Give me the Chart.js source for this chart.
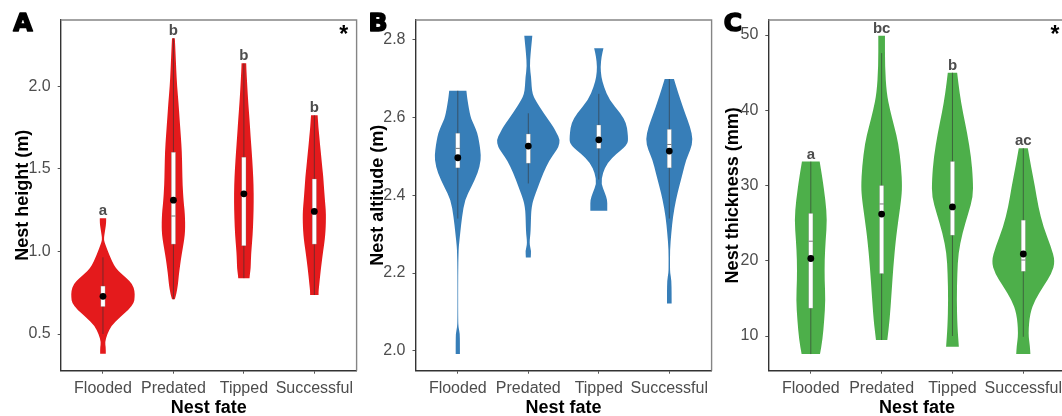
<!DOCTYPE html>
<html>
<head>
<meta charset="utf-8">
<script src="https://cdn.jsdelivr.net/npm/chart.js@4.4.1/dist/chart.umd.min.js"></script>
<style>
  html, body { margin: 0; padding: 0; background: #ffffff; width: 1062px; height: 416px; overflow: hidden; }
  canvas { position: absolute; top: 0; }
</style>
</head>
<body>
<canvas id="cA" width="360" height="418" style="left:0px"></canvas>
<canvas id="cB" width="360" height="418" style="left:355px"></canvas>
<canvas id="cC" width="360" height="418" style="left:710px"></canvas>
<script>
// ---------------- DATA ----------------
const categories = ['Flooded', 'Predated', 'Tipped', 'Successful'];

// Panel A: Nest height (m) — violin profiles [value, half-width in category units]
const heightFlooded = [[0.38,0.04],[0.42,0.04],[0.45,0.028],[0.50,0.06],[0.55,0.12],[0.60,0.24],[0.65,0.37],[0.69,0.44],[0.72,0.45],[0.76,0.45],[0.80,0.42],[0.84,0.33],[0.88,0.22],[0.92,0.15],[0.96,0.11],[1.00,0.07],[1.04,0.035],[1.07,0.012],[1.10,0.02],[1.14,0.035],[1.17,0.045],[1.20,0.045]];
const heightPredated = [[0.71,0.02],[0.74,0.04],[0.80,0.065],[0.85,0.075],[0.90,0.09],[0.95,0.106],[1.00,0.125],[1.05,0.145],[1.10,0.162],[1.15,0.167],[1.20,0.165],[1.25,0.158],[1.30,0.145],[1.40,0.13],[1.50,0.125],[1.60,0.12],[1.70,0.105],[1.80,0.088],[1.90,0.072],[2.00,0.052],[2.10,0.04],[2.20,0.03],[2.29,0.02]];
const heightTipped = [[0.838,0.08],[0.86,0.085],[0.90,0.097],[0.95,0.1],[1.00,0.106],[1.10,0.125],[1.20,0.135],[1.30,0.14],[1.40,0.138],[1.50,0.127],[1.60,0.112],[1.70,0.095],[1.80,0.08],[1.90,0.062],[2.00,0.048],[2.10,0.036],[2.138,0.033]];
const heightSuccessful = [[0.736,0.06],[0.76,0.06],[0.80,0.07],[0.90,0.094],[1.00,0.125],[1.05,0.142],[1.10,0.155],[1.15,0.162],[1.20,0.165],[1.25,0.163],[1.30,0.152],[1.40,0.135],[1.45,0.127],[1.50,0.115],[1.60,0.092],[1.65,0.08],[1.70,0.07],[1.75,0.058],[1.824,0.047]];
const heightQ1 = [0.666, 1.044, 1.034, 1.044];
const heightMedian = [0.72, 1.214, 1.35, 1.25];
const heightQ3 = [0.79, 1.60, 1.57, 1.438];
const heightWhiskerLow = [0.50, 0.71, 0.838, 0.736];
const heightWhiskerHigh = [0.964, 2.29, 2.138, 1.824];
const heightMean = [0.728, 1.31, 1.348, 1.242];
const heightLetters = ['a', 'b', 'b', 'b'];
const heightTicks = [0.5, 1.0, 1.5, 2.0];

// Panel B: Nest altitude (m)
const altitudeFlooded = [[1.992,0.03],[2.02,0.03],[2.046,0.028],[2.06,0.01],[2.08,0.005],[2.20,0.005],[2.25,0.01],[2.268,0.014],[2.30,0.033],[2.345,0.06],[2.388,0.10],[2.42,0.19],[2.456,0.283],[2.49,0.33],[2.516,0.32],[2.54,0.30],[2.559,0.278],[2.58,0.23],[2.60,0.18],[2.644,0.137],[2.668,0.122]];
const altitudePredated = [[2.24,0.035],[2.259,0.04],[2.27,0.02],[2.285,0.02],[2.30,0.03],[2.319,0.035],[2.354,0.04],[2.37,0.05],[2.388,0.07],[2.422,0.14],[2.456,0.21],[2.49,0.30],[2.51,0.38],[2.524,0.43],[2.542,0.45],[2.56,0.40],[2.576,0.354],[2.61,0.22],[2.644,0.10],[2.66,0.06],[2.678,0.047],[2.704,0.04],[2.73,0.02],[2.764,0.033],[2.79,0.047],[2.809,0.057]];
const altitudeTipped = [[2.36,0.12],[2.37,0.12],[2.388,0.12],[2.405,0.087],[2.43,0.033],[2.456,0.054],[2.482,0.12],[2.508,0.26],[2.52,0.35],[2.533,0.41],[2.545,0.415],[2.559,0.41],[2.585,0.39],[2.61,0.31],[2.644,0.15],[2.679,0.07],[2.704,0.035],[2.73,0.024],[2.756,0.04],[2.777,0.066]];
const altitudeSuccessful = [[2.122,0.033],[2.148,0.033],[2.182,0.03],[2.20,0.012],[2.216,0.01],[2.26,0.01],[2.302,0.028],[2.345,0.052],[2.388,0.094],[2.422,0.14],[2.456,0.19],[2.49,0.236],[2.516,0.30],[2.542,0.337],[2.576,0.295],[2.61,0.224],[2.644,0.16],[2.67,0.113],[2.698,0.066]];
const altitudeQ1 = [2.47, 2.482, 2.52, 2.47];
const altitudeMedian = [2.52, 2.53, 2.545, 2.53];
const altitudeQ3 = [2.559, 2.557, 2.58, 2.569];
const altitudeWhiskerLow = [2.34, 2.43, 2.44, 2.34];
const altitudeWhiskerHigh = [2.668, 2.61, 2.66, 2.698];
const altitudeMean = [2.496, 2.526, 2.542, 2.513];
const altitudeTicks = [2.0, 2.2, 2.4, 2.6, 2.8];

// Panel C: Nest thickness (mm)
const thicknessFlooded = [[7.6,0.13],[9.47,0.165],[12.1,0.19],[14.8,0.207],[17.4,0.195],[20.1,0.195],[22.8,0.21],[25.4,0.23],[28.1,0.207],[31.2,0.16],[33.18,0.125]];
const thicknessPredated = [[9.47,0.08],[12.1,0.113],[15.7,0.14],[19.2,0.165],[22.8,0.2],[25.4,0.236],[28.1,0.276],[29.85,0.29],[32.5,0.276],[35.6,0.236],[37.8,0.18],[40.05,0.118],[42.3,0.07],[45.8,0.047],[49.9,0.047]];
const thicknessTipped = [[8.58,0.09],[11.2,0.07],[14.8,0.06],[18.3,0.068],[21.0,0.083],[23.66,0.14],[26.3,0.224],[28.5,0.29],[30.7,0.29],[33.8,0.264],[37.0,0.207],[39.6,0.15],[42.3,0.1],[45.0,0.066]];
const thicknessSuccessful = [[7.6,0.1],[8.58,0.094],[10.35,0.07],[13.0,0.094],[14.8,0.165],[16.6,0.283],[18.3,0.4],[19.9,0.45],[21.9,0.39],[24.5,0.283],[27.2,0.212],[29.85,0.165],[32.5,0.11],[34.96,0.064]];
const thicknessQ1 = [13.7, 18.3, 23.4, 18.6];
const thicknessMedian = [22.6, 27.55, 27.0, 20.1];
const thicknessQ3 = [26.3, 30.0, 33.2, 25.4];
const thicknessWhiskerLow = [7.6, 9.47, 10, 9.9];
const thicknessWhiskerHigh = [33.18, 47.6, 45, 34.96];
const thicknessMean = [20.3, 26.2, 27.15, 20.9];
const thicknessLetters = ['a', 'bc', 'b', 'ac'];
const thicknessTicks = [10, 20, 30, 40, 50];

// ---------------- DRAWING ----------------
const FONT = "'Liberation Sans', Arial, sans-serif";
const TICK_GREY = '#4d4d4d';

// smooth path through a list of pixel points (midpoint quadratic smoothing)
function smoothSide(ctx, pts, first) {
  if (first) ctx.moveTo(pts[0][0], pts[0][1]); else ctx.lineTo(pts[0][0], pts[0][1]);
  if (pts.length < 3) { for (let k = 1; k < pts.length; k++) ctx.lineTo(pts[k][0], pts[k][1]); return; }
  ctx.lineTo((pts[0][0] + pts[1][0]) / 2, (pts[0][1] + pts[1][1]) / 2);
  for (let k = 1; k < pts.length - 1; k++) {
    const mx = (pts[k][0] + pts[k + 1][0]) / 2, my = (pts[k][1] + pts[k + 1][1]) / 2;
    ctx.quadraticCurveTo(pts[k][0], pts[k][1], mx, my);
  }
  const L = pts[pts.length - 1];
  ctx.lineTo(L[0], L[1]);
}

const violinPlugin = {
  id: 'violins',
  beforeDatasetsDraw(chart) {
    const p = chart.options.plugins.violins;
    if (!p) return;
    const {ctx, chartArea} = chart;
    const xs = chart.scales.x, ys = chart.scales.y;
    ctx.save();
    ctx.beginPath();
    ctx.rect(chartArea.left, chartArea.top, chartArea.width, chartArea.height);
    ctx.clip();
    const bw = 0.03;
    p.profiles.forEach((prof, i) => {
      const cx = i + 1;
      const right = prof.map(([v, w]) => [xs.getPixelForValue(cx + w), ys.getPixelForValue(v)]);
      const left = prof.slice().reverse().map(([v, w]) => [xs.getPixelForValue(cx - w), ys.getPixelForValue(v)]);
      ctx.beginPath();
      smoothSide(ctx, right, true);
      smoothSide(ctx, left, false);
      ctx.closePath();
      ctx.fillStyle = p.color;
      ctx.fill();
      // whisker line
      const X0 = xs.getPixelForValue(cx);
      ctx.beginPath();
      ctx.moveTo(X0, ys.getPixelForValue(p.wLo[i]));
      ctx.lineTo(X0, ys.getPixelForValue(p.wHi[i]));
      ctx.strokeStyle = 'rgba(50,50,50,0.75)';
      ctx.lineWidth = 0.8;
      ctx.stroke();
      // box
      const xl = xs.getPixelForValue(cx - bw), xr = xs.getPixelForValue(cx + bw);
      const yt = ys.getPixelForValue(p.q3[i]), yb = ys.getPixelForValue(p.q1[i]);
      ctx.fillStyle = '#ffffff';
      ctx.fillRect(xl, yt, xr - xl, yb - yt);
      ctx.strokeStyle = 'rgba(120,120,120,0.6)';
      ctx.lineWidth = 0.5;
      ctx.strokeRect(xl, yt, xr - xl, yb - yt);
      // median
      const ym = ys.getPixelForValue(p.med[i]);
      ctx.beginPath();
      ctx.moveTo(xl, ym); ctx.lineTo(xr, ym);
      ctx.strokeStyle = '#777777';
      ctx.lineWidth = 1;
      ctx.stroke();
    });
    ctx.restore();
  },
  afterDraw(chart) {
    const p = chart.options.plugins.violins;
    if (!p) return;
    const {ctx, chartArea} = chart;
    const xs = chart.scales.x, ys = chart.scales.y;
    ctx.save();
    // top and right panel border
    ctx.strokeStyle = '#858585';
    ctx.lineWidth = 1.4;
    ctx.beginPath();
    ctx.moveTo(chartArea.left, chartArea.top);
    ctx.lineTo(chartArea.right, chartArea.top);
    ctx.lineTo(chartArea.right, chartArea.bottom);
    ctx.stroke();
    // significance letters
    if (p.letters) {
      ctx.font = 'bold 15px ' + FONT;
      ctx.fillStyle = TICK_GREY;
      ctx.textAlign = 'center';
      ctx.textBaseline = 'alphabetic';
      p.letters.forEach((t, i) => {
        const prof = p.profiles[i];
        const top = prof[prof.length - 1][0];
        ctx.fillText(t, xs.getPixelForValue(i + 1), ys.getPixelForValue(top) - 3);
      });
    }
    // asterisk
    if (p.star) {
      ctx.font = 'bold 23px ' + FONT;
      ctx.fillStyle = '#000000';
      ctx.textAlign = 'center';
      ctx.textBaseline = 'middle';
      ctx.fillText('*', chartArea.left + p.starX, chartArea.top + 16);
    }
    // panel letter (heavy)
    ctx.font = 'bold 25px "DejaVu Sans", ' + FONT;
    ctx.fillStyle = '#000000';
    ctx.strokeStyle = '#000000';
    ctx.lineWidth = 1.6;
    ctx.lineJoin = 'round';
    ctx.textAlign = 'center';
    ctx.textBaseline = 'middle';
    ctx.fillText(p.panel, p.panelX, 24);
    ctx.strokeText(p.panel, p.panelX, 24);
    ctx.restore();
  }
};

function makeChart(id, cfg) {
  const meanData = cfg.mean.map((m, i) => ({x: i + 1, y: m}));
  return new Chart(document.getElementById(id), {
    type: 'scatter',
    data: {
      datasets: [{
        data: meanData,
        pointRadius: 3.4,
        pointBackgroundColor: '#000000',
        pointBorderWidth: 0,
        pointHoverRadius: 3.4
      }]
    },
    options: {
      responsive: false,
      animation: false,
      events: [],
      layout: { padding: { top: 20, right: cfg.padRight, left: 0, bottom: 0 } },
      plugins: {
        legend: { display: false },
        tooltip: { enabled: false },
        violins: {
          profiles: cfg.profiles, color: cfg.color,
          q1: cfg.q1, med: cfg.med, q3: cfg.q3, wLo: cfg.wLo, wHi: cfg.wHi,
          letters: cfg.letters, star: cfg.star, starX: cfg.starX,
          panel: cfg.panel, panelX: cfg.panelX
        }
      },
      scales: {
        x: {
          type: 'linear',
          min: 0.4, max: 4.6,
          afterBuildTicks: (s) => { s.ticks = categories.map((c, i) => ({value: i + 1})); },
          afterFit: (s) => { s.height = 47.3; },
          ticks: {
            callback: (v) => categories[v - 1],
            color: TICK_GREY,
            font: { family: FONT, size: 16 },
            padding: 5,
            maxRotation: 0,
            autoSkip: false
          },
          grid: { drawOnChartArea: false, tickLength: 3, color: '#555555', tickWidth: 1 },
          border: { display: true, color: '#333333', width: 1.4 },
          title: {
            display: true, text: 'Nest fate', color: '#000000',
            font: { family: FONT, size: 18, weight: 'bold' },
            padding: { top: 0, bottom: -1 }
          }
        },
        y: {
          type: 'linear',
          min: cfg.ymin, max: cfg.ymax,
          afterBuildTicks: (s) => { s.ticks = cfg.ticks.map(v => ({value: v})); },
          afterFit: (s) => { s.width = cfg.yWidth; },
          ticks: {
            callback: (v) => cfg.fmt(v),
            color: TICK_GREY,
            font: { family: FONT, size: 16 },
            padding: 7
          },
          grid: { drawOnChartArea: false, tickLength: 3, color: '#555555', tickWidth: 1 },
          border: { display: true, color: '#333333', width: 1.4 },
          title: {
            display: true, text: cfg.yTitle, color: '#000000',
            font: { family: FONT, size: 18, weight: 'bold' },
            padding: { top: 12.5, bottom: 0 }
          }
        }
      }
    },
    plugins: [violinPlugin]
  });
}

makeChart('cA', {
  profiles: [heightFlooded, heightPredated, heightTipped, heightSuccessful],
  color: '#E41A1C',
  q1: heightQ1, med: heightMedian, q3: heightQ3, wLo: heightWhiskerLow, wHi: heightWhiskerHigh,
  mean: heightMean, letters: heightLetters, star: true, starX: 283,
  panel: 'A', panelX: 23,
  ymin: 0.278, ymax: 2.40, ticks: heightTicks, fmt: v => v.toFixed(1),
  yTitle: 'Nest height (m)', yWidth: 60.7, padRight: 1.8
});

makeChart('cB', {
  profiles: [altitudeFlooded, altitudePredated, altitudeTipped, altitudeSuccessful],
  color: '#377EB8',
  q1: altitudeQ1, med: altitudeMedian, q3: altitudeQ3, wLo: altitudeWhiskerLow, wHi: altitudeWhiskerHigh,
  mean: altitudeMean, letters: null, star: false, starX: 0,
  panel: 'B', panelX: 23,
  ymin: 1.9494, ymax: 2.8495, ticks: altitudeTicks, fmt: v => v.toFixed(1),
  yTitle: 'Nest altitude (m)', yWidth: 60.5, padRight: 2.7
});

makeChart('cC', {
  profiles: [thicknessFlooded, thicknessPredated, thicknessTipped, thicknessSuccessful],
  color: '#4DAF4A',
  q1: thicknessQ1, med: thicknessMedian, q3: thicknessQ3, wLo: thicknessWhiskerLow, wHi: thicknessWhiskerHigh,
  mean: thicknessMean, letters: thicknessLetters, star: true, starX: 286.7,
  panel: 'C', panelX: 23,
  ymin: 5.39, ymax: 52.0, ticks: thicknessTicks, fmt: v => String(Math.round(v)),
  yTitle: 'Nest thickness (mm)', yWidth: 58.3, padRight: 4.2
});
</script>
</body>
</html>
